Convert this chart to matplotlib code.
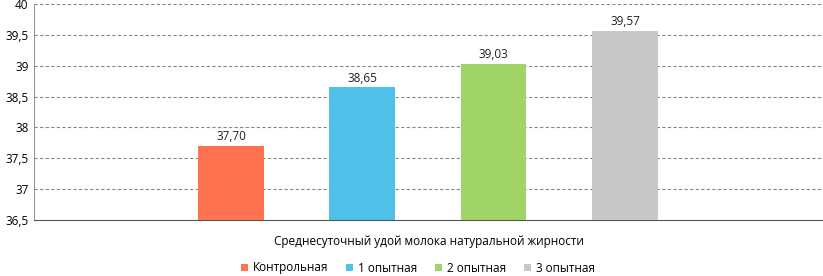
import matplotlib.pyplot as plt

plt.rcParams['font.family'] = ['Open Sans', 'DejaVu Sans']

groups = ["Контрольная", "1 опытная", "2 опытная", "3 опытная"]
values = [37.70, 38.65, 39.03, 39.57]
colors = ["#FF7350", "#4FC1E8", "#A0D468", "#C8C8C8"]
yticks = [36.5, 37, 37.5, 38, 38.5, 39, 39.5, 40]
xlabel = "Среднесуточный удой молока натуральной жирности"

fig = plt.figure(figsize=(8.23, 2.76), dpi=100)
ax = fig.add_axes([34 / 823, 1 - 220 / 276, 788 / 823, 216 / 276])

bars = []
for i, (g, v, c) in enumerate(zip(groups, values, colors)):
    b = ax.bar(i, v - 36.5, bottom=36.5, width=0.5, color=c, label=g, zorder=3)
    bars.append(b)
    ax.text(i, v + 0.04, f"{v:.2f}".replace(".", ","), ha="center", va="bottom",
            fontsize=8.5, color="#222222")

ax.set_xlim(-1.5, 4.5)
ax.set_ylim(36.5, 40)
ax.set_yticks(yticks)
ax.set_yticklabels([f"{t:g}".replace(".", ",") for t in yticks], fontsize=8.5)
ax.set_xticks([])
ax.tick_params(axis="y", length=0, pad=4)

for t in yticks[1:]:
    ax.axhline(t, color="#888888", lw=0.8, ls=(0, (3, 2)), zorder=1)

for s in ["top", "right"]:
    ax.spines[s].set_visible(False)
ax.spines["left"].set_color("#999999")
ax.spines["bottom"].set_color("#555555")

fig.text(429 / 823, 1 - 241 / 276, xlabel, ha="center", va="center", fontsize=8.5)
fig.legend(handles=[b for b in bars], labels=groups, loc="center",
           bbox_to_anchor=(418 / 823, 1 - 268 / 276), ncol=4, frameon=False,
           fontsize=8.5, handlelength=0.6, handleheight=0.6, columnspacing=1.5,
           handletextpad=0.4)

fig.savefig("out.png", dpi=100)
